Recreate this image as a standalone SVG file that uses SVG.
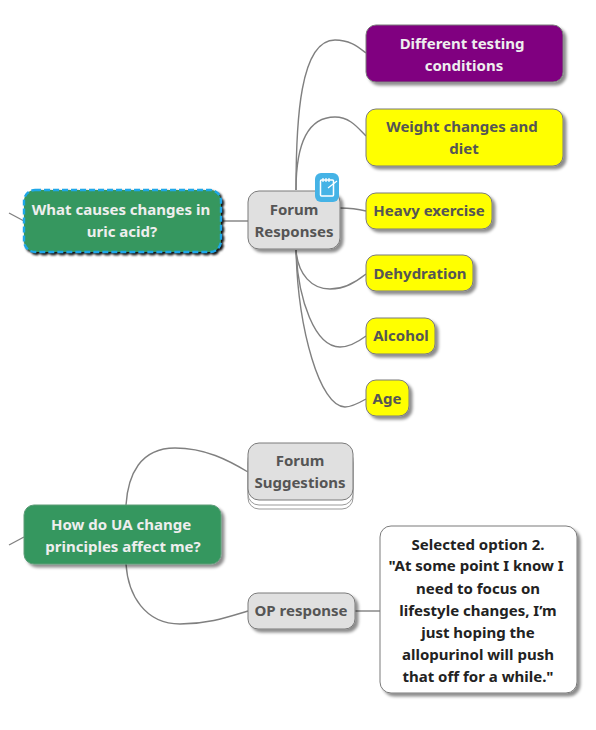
<svg xmlns="http://www.w3.org/2000/svg" width="596" height="730" viewBox="0 0 596 730">
<defs>
<filter id="sh" x="-20%" y="-20%" width="140%" height="150%"><feDropShadow dx="3" dy="3" stdDeviation="1.6" flood-color="#000" flood-opacity="0.45"/></filter>
</defs>
<style>
text{font-family:"Noto Sans","Open Sans",sans-serif;font-weight:700;font-size:15px;text-anchor:middle;fill:#555}
.lt{fill:#eee}
.bk{fill:#222}
.n{stroke:#7a7a7a;stroke-width:1;filter:url(#sh)}
.gr{fill:#e0e0e0}
.ye{fill:#ffff00}
.c{fill:none;stroke:#808080;stroke-width:1.4}
</style>
<rect width="596" height="730" fill="#fff"/>
<g id="connectors">
<path class="c" d="M9 213 L24 221"/>
<path class="c" d="M9 545 L24 537"/>
<path class="c" d="M221 221 H248"/>
<path class="c" d="M296 190 C296 120 300 40 335 40 C350 40 358 47 366 53"/>
<path class="c" d="M296 190 C296 150 305 117 335 117 C350 117 358 128 366 136"/>
<path class="c" d="M340 208 C350 208 358 209 366 211"/>
<path class="c" d="M296 250 C298 275 312 289 330 289 C345 289 356 282 366 274"/>
<path class="c" d="M296 250 C298 300 315 347 340 347 C350 347 358 342 366 336"/>
<path class="c" d="M296 250 C298 330 320 407 345 407 C352 407 359 403 366 399"/>
<path class="c" d="M126 505 C128 475 140 448 175 448 C205 448 228 460 248 472"/>
<path class="c" d="M126 564 C128 595 145 624 180 624 C208 624 228 617 248 611"/>
<path class="c" d="M355 611 H380"/>
</g>
<g id="root1">
<rect x="24" y="190" width="197" height="62" rx="11" fill="#36975f" stroke="#1ea7e8" stroke-width="2.400" stroke-dasharray="6 3" style="filter:drop-shadow(2px 2px 0.8px #111)"/>
<text class="lt" x="121" y="215">What causes changes in</text>
<text class="lt" x="122" y="237">uric acid?</text>
</g>
<g id="forum-responses">
<rect class="n gr" x="248" y="191" width="92" height="58" rx="11"/>
<text x="294" y="215">Forum</text>
<text x="294" y="237">Responses</text>
</g>
<g id="note-icon">
<rect x="315" y="173" width="24" height="29" rx="6" fill="#45b3e6"/>
<rect x="320.500" y="180" width="13" height="16" rx="1" fill="none" stroke="#fff" stroke-width="1.500"/>
<path d="M323 178 v4 M326 178 v4 M329 178 v4 M328 188 L337 181" stroke="#fff" stroke-width="1.200" fill="none"/>
</g>
<g id="different-testing">
<rect class="n" fill="#800080" x="366" y="25" width="197" height="57" rx="10"/>
<text class="lt" x="462" y="49">Different testing</text>
<text class="lt" x="464" y="71">conditions</text>
</g>
<g id="weight">
<rect class="n ye" x="366" y="109" width="197" height="57" rx="10"/>
<text x="462" y="132">Weight changes and</text>
<text x="464" y="154">diet</text>
</g>
<g id="heavy">
<rect class="n ye" x="366" y="193" width="126" height="36" rx="10"/>
<text x="429" y="216">Heavy exercise</text>
</g>
<g id="dehydration">
<rect class="n ye" x="366" y="255" width="107" height="36" rx="10"/>
<text x="420" y="279">Dehydration</text>
</g>
<g id="alcohol">
<rect class="n ye" x="366" y="318" width="69" height="36" rx="10"/>
<text x="401" y="341">Alcohol</text>
</g>
<g id="age">
<rect class="n ye" x="366" y="380" width="43" height="36" rx="10"/>
<text x="387" y="404">Age</text>
</g>
<g id="root2">
<rect x="24" y="505" width="197" height="59" rx="10" fill="#36975f" stroke="#5c9c78" filter="url(#sh)"/>
<text class="lt" x="121" y="530">How do UA change</text>
<text class="lt" x="123" y="552">principles affect me?</text>
</g>
<g id="forum-suggestions">
<rect x="248" y="452" width="105" height="57" rx="11" fill="#fff" stroke="#999"/>
<rect x="248" y="448" width="105" height="57" rx="11" fill="#fff" stroke="#999"/>
<rect x="248" y="443" width="105" height="57" rx="11" fill="#e0e0e0" stroke="#7a7a7a"/>
<text x="300" y="466">Forum</text>
<text x="300" y="488">Suggestions</text>
</g>
<g id="op-response">
<rect class="n gr" x="248" y="593" width="107" height="36" rx="10"/>
<text x="301" y="616">OP response</text>
</g>
<g id="selected">
<rect class="n" fill="#fff" x="380" y="526" width="197" height="167" rx="11"/>
<text class="bk" x="478" y="550">Selected option 2.</text>
<text class="bk" x="476" y="571">"At some point I know I</text>
<text class="bk" x="478" y="594">need to focus on</text>
<text class="bk" x="478" y="616">lifestyle changes, I’m</text>
<text class="bk" x="478" y="638">just hoping the</text>
<text class="bk" x="478" y="660">allopurinol will push</text>
<text class="bk" x="478" y="682">that off for a while."</text>
</g>
</svg>
